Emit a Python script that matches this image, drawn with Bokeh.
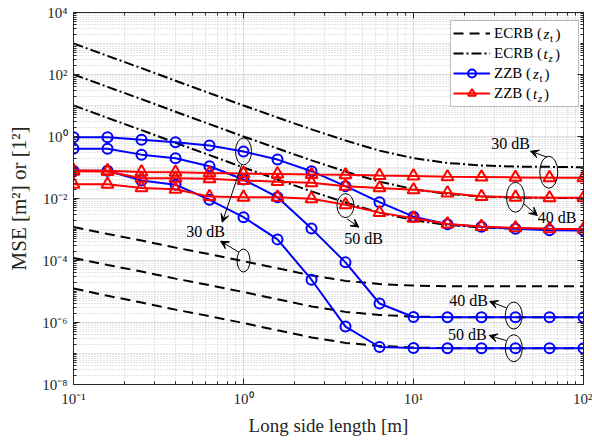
from bokeh.plotting import figure
from bokeh.models import (LogAxis, FixedTicker, CustomJSTickFormatter, Arrow, VeeHead,
                          Label, Legend, LegendItem, Range1d, BoxAnnotation)
from bokeh.embed import file_html
from bokeh.resources import INLINE

# ---------------- data ----------------
side_length = [0.1, 0.1585, 0.2512, 0.3981, 0.631, 1.0, 1.585, 2.512, 3.981, 6.31,
               10.0, 15.85, 25.12, 39.81, 63.1, 100.0]

ecrb_zt_30dB = [1.2e-3, 7.2e-4, 4.4e-4, 2.6e-4, 1.6e-4, 9.5e-5, 5.6e-5, 3.3e-5, 2.2e-5, 1.74e-5,
                1.55e-5, 1.48e-5, 1.48e-5, 1.48e-5, 1.48e-5, 1.48e-5]
ecrb_zt_40dB = [1.2e-4, 7.2e-5, 4.4e-5, 2.6e-5, 1.6e-5, 9.6e-6, 5.6e-6, 3.3e-6, 2.2e-6, 1.75e-6,
                1.55e-6, 1.49e-6, 1.49e-6, 1.49e-6, 1.49e-6, 1.49e-6]
ecrb_zt_50dB = [1.25e-5, 7.3e-6, 4.4e-6, 2.6e-6, 1.6e-6, 9.6e-7, 5.6e-7, 3.3e-7, 2.2e-7, 1.75e-7,
                1.55e-7, 1.49e-7, 1.49e-7, 1.49e-7, 1.49e-7, 1.49e-7]

ecrb_tz_30dB = [1000, 400, 160, 63, 25, 10, 4.1, 1.7, 0.74, 0.35, 0.20, 0.14, 0.117, 0.107, 0.105, 0.102]
ecrb_tz_40dB = [100, 40, 16, 6.3, 2.5, 1.0, 0.41, 0.17, 0.074, 0.035, 0.020, 0.014, 0.0117, 0.0107,
                0.0105, 0.0102]
ecrb_tz_50dB = [10, 4.0, 1.6, 0.63, 0.25, 0.10, 0.041, 0.017, 0.0074, 0.0035, 0.0020, 0.0014,
                0.00117, 0.00107, 0.00105, 0.00102]

zzb_zt_30dB = [0.95, 0.95, 0.78, 0.65, 0.51, 0.33, 0.18, 0.076, 0.025, 0.0076, 0.0026, 0.00148,
               0.00122, 0.00105, 0.00095, 0.00092]
zzb_zt_40dB = [0.40, 0.40, 0.26, 0.20, 0.11, 0.041, 0.011, 0.00107, 8.7e-5, 4.1e-6, 1.5e-6, 1.48e-6,
               1.48e-6, 1.48e-6, 1.48e-6, 1.48e-6]
zzb_zt_50dB = [0.079, 0.079, 0.038, 0.028, 0.0091, 0.0025, 4.8e-4, 2.4e-5, 7.4e-7, 1.62e-7, 1.5e-7,
               1.48e-7, 1.48e-7, 1.48e-7, 1.48e-7, 1.48e-7]

zzb_tz_30dB = [0.080, 0.079, 0.072, 0.070, 0.066, 0.064, 0.062, 0.059, 0.058, 0.055, 0.053, 0.050,
               0.049, 0.048, 0.047, 0.047]
zzb_tz_40dB = [0.075, 0.074, 0.045, 0.045, 0.043, 0.038, 0.035, 0.032, 0.025, 0.022, 0.019, 0.015,
               0.0115, 0.011, 0.0105, 0.0105]
zzb_tz_50dB = [0.029, 0.029, 0.022, 0.020, 0.0115, 0.011, 0.011, 0.0098, 0.0063, 0.0035, 0.0023,
               0.0015, 0.00125, 0.00113, 0.00106, 0.00104]

x_major_ticks = [0.1, 1.0, 10.0, 100.0]
x_minor_ticks = [m * 10.0 ** k for k in range(-1, 2) for m in range(2, 10)]
y_major_ticks = [1e-8, 1e-6, 1e-4, 1e-2, 1.0, 1e2, 1e4]
y_minor_ticks = [m * 10.0 ** k for k in range(-8, 4) for m in range(1, 10)
                 if not (m == 1 and k % 2 == 0)]

x_label = "Long side length [m]"
y_label = "MSE [m\u00b2] or [1\u00b2]"
legend_names = ["ECRB (", "ECRB (", "ZZB (", "ZZB ("]

SERIF = "Liberation Serif"
AX = "#262626"

# frame: 510 x 372 px, its top-left at (73, 12) in the picture
FL, FT, FW, FH = 73, 12, 510, 372

# ---------------- figure ----------------
p = figure(width=592, height=443, x_axis_type="log", y_axis_type="log",
           x_range=Range1d(0.1, 100), y_range=Range1d(1e-8, 1e4),
           output_backend="svg", toolbar_location=None,
           min_border_left=FL, min_border_right=592 - FL - FW, min_border_top=FT,
           min_border_bottom=443 - FT - FH)
p.background_fill_color = "white"
p.border_fill_color = "white"
p.outline_line_color = AX
p.outline_line_width = 1

fmt_code = """
const sup = {"-": "\u207b", "0": "\u2070", "1": "\u00b9", "2": "\u00b2", "3": "\u00b3",
             "4": "\u2074", "5": "\u2075", "6": "\u2076", "7": "\u2077", "8": "\u2078", "9": "\u2079"};
const e = Math.round(Math.log10(tick));
return "10" + String(e).split("").map(c => sup[c]).join("");
"""

xt = FixedTicker(ticks=x_major_ticks, minor_ticks=x_minor_ticks)
yt = FixedTicker(ticks=y_major_ticks, minor_ticks=y_minor_ticks)


def style_axis(ax, labels=True):
    ax.axis_line_color = AX
    ax.major_tick_line_color = AX
    ax.minor_tick_line_color = AX
    ax.major_tick_in = 6
    ax.major_tick_out = 0
    ax.minor_tick_in = 3
    ax.minor_tick_out = 0
    if labels:
        ax.formatter = CustomJSTickFormatter(code=fmt_code)
        ax.major_label_text_font = SERIF
        ax.major_label_text_font_size = "15px"
        ax.major_label_text_color = AX
        ax.axis_label_text_font = SERIF
        ax.axis_label_text_font_style = "normal"
        ax.axis_label_text_color = AX
    else:
        ax.formatter = CustomJSTickFormatter(code='return "";')
        ax.major_label_standoff = 0


p.xaxis.ticker = xt
p.yaxis.ticker = yt
style_axis(p.xaxis[0])
style_axis(p.yaxis[0])
p.xaxis.axis_label = x_label
p.yaxis.axis_label = y_label
p.xaxis.axis_label_text_font_size = "19px"
p.yaxis.axis_label_text_font_size = "21px"
p.xaxis.major_label_standoff = 6
p.xaxis.axis_label_standoff = 5
p.yaxis.major_label_standoff = 6
p.yaxis.axis_label_standoff = 8

top_ax = LogAxis(ticker=xt)
style_axis(top_ax, labels=False)
p.add_layout(top_ax, "above")
right_ax = LogAxis(ticker=yt)
style_axis(right_ax, labels=False)
p.add_layout(right_ax, "right")

for g, t in ((p.xgrid, xt), (p.ygrid, yt)):
    g.ticker = t
    g.grid_line_color = "#dedede"
    g.grid_line_width = 1
    g.minor_grid_line_color = "#c8c8c8"
    g.minor_grid_line_dash = "1 2"
    g.minor_grid_line_width = 1


def px_to_data(px, py):
    # picture pixel -> data coordinates of this frame (x: 170 px/decade, y: 31 px/decade)
    return 10 ** ((px - FL) / 170.0 - 1), 10 ** (4 - (py - FT) / 31.0)


# white legend panel, drawn above the grid but below everything else
bl, bt = px_to_data(450, 20)
br, bb = px_to_data(578, 106)
p.add_layout(BoxAnnotation(left=bl, right=br, top=bt, bottom=bb, fill_color="white", fill_alpha=1.0,
                           line_color=AX, line_width=1, level="underlay"))

# ---------------- curves ----------------
r_ecrb_zt = []
for ys in (ecrb_zt_30dB, ecrb_zt_40dB, ecrb_zt_50dB):
    r_ecrb_zt.append(p.line(side_length, ys, line_color="black", line_width=2, line_dash="10 6"))
r_ecrb_tz = []
for ys in (ecrb_tz_30dB, ecrb_tz_40dB, ecrb_tz_50dB):
    r_ecrb_tz.append(p.line(side_length, ys, line_color="black", line_width=2, line_dash="10 3 2 3"))

r_zzb_zt = []
for ys in (zzb_zt_30dB, zzb_zt_40dB, zzb_zt_50dB):
    ln = p.line(side_length, ys, line_color="#0000ff", line_width=2)
    mk = p.scatter(side_length, ys, marker="circle", size=10, line_color="#0000ff",
                   line_width=2, fill_color=None)
    r_zzb_zt.append((ln, mk))
r_zzb_tz = []
for ys in (zzb_tz_30dB, zzb_tz_40dB, zzb_tz_50dB):
    ln = p.line(side_length, ys, line_color="#ff0000", line_width=2)
    mk = p.scatter(side_length, ys, marker="triangle", size=12, line_color="#ff0000",
                   line_width=2, fill_color=None)
    r_zzb_tz.append((ln, mk))

# ---------------- annotations (ellipses, arrows, labels) ----------------
ell_x = [1.0, 1.0, 3.98, 62.5, 39.8, 38.9, 38.9]
ell_y = [0.33, 1.0e-4, 5.9e-3, 0.0705, 0.011, 1.68e-6, 1.48e-7]
ell_w = [16, 13, 17, 18, 18, 17, 17]
ell_h = [27, 23, 24, 32, 30, 27, 27]
p.ellipse(ell_x, ell_y, width=ell_w, height=ell_h, width_units="screen", height_units="screen",
          fill_color=None, line_color="black", line_width=1)

arrows = [
    ((0.975, 0.12), (0.75, 1.72e-3)),
    ((0.938, 1.86e-4), (0.733, 4.2e-4)),
    ((4.07, 2.2e-3), (4.77, 1.19e-3)),
    ((61.1, 0.215), (48.8, 0.336)),
    ((44.6, 6.7e-3), (53.5, 2.83e-3)),
    ((35.2, 2.98e-6), (28.1, 4.75e-6)),
    ((35.0, 2.63e-7), (27.9, 3.8e-7)),
]
for (x0, y0), (x1, y1) in arrows:
    p.add_layout(Arrow(x_start=x0, y_start=y0, x_end=x1, y_end=y1, line_color="black", line_width=1,
                       end=VeeHead(size=8, fill_color="black", line_color="black", line_width=1)))

texts = [
    (0.598, 8.6e-4, "30 dB"),
    (5.08, 5.1e-4, "50 dB"),
    (37.3, 0.608, "30 dB"),
    (70.0, 2.5e-3, "40 dB"),
    (21.1, 5.1e-6, "40 dB"),
    (20.7, 4.0e-7, "50 dB"),
]
for x, y, t in texts:
    p.add_layout(Label(x=x, y=y, text=t, text_align="center", text_baseline="middle",
                       text_font=SERIF, text_font_size="16px", text_color="black"))

# ---------------- legend (transparent; panel drawn by the box above) ----------------
legend = Legend(items=[
    LegendItem(label=legend_names[0], renderers=[r_ecrb_zt[0]]),
    LegendItem(label=legend_names[1], renderers=[r_ecrb_tz[0]]),
    LegendItem(label=legend_names[2], renderers=list(r_zzb_zt[0])),
    LegendItem(label=legend_names[3], renderers=list(r_zzb_tz[0])),
], location=(377, 278), margin=0, padding=3, spacing=0, glyph_width=37, glyph_height=20,
   label_height=20, label_width=81, label_standoff=4, border_line_alpha=0.0,
   background_fill_alpha=0.0,
   label_text_font=SERIF, label_text_font_size="15px", label_text_color="black")
p.add_layout(legend)

# italic symbols and subscripts that follow the legend names
pieces = [
    (33, [(543, "z", True, False), (549.5, "t", False, True), (555, ")", False, False)]),
    (53, [(543, "t", True, False), (548, "z", True, True), (554.5, ")", False, False)]),
    (73, [(532.5, "z", True, False), (539, "t", False, True), (544, ")", False, False)]),
    (93, [(532.5, "t", True, False), (537.5, "z", True, True), (543.5, ")", False, False)]),
]
for rc, parts in pieces:
    for px, t, ital, sub in parts:
        lx, ly = px_to_data(px, rc + (4 if sub else 0))
        p.add_layout(Label(x=lx, y=ly, text=t, text_align="left", text_baseline="middle",
                           text_font=SERIF, text_font_size="11px" if sub else "15px",
                           text_font_style="italic" if ital else "normal", text_color="black"))

open("out.html", "w").write(file_html(p, INLINE))
